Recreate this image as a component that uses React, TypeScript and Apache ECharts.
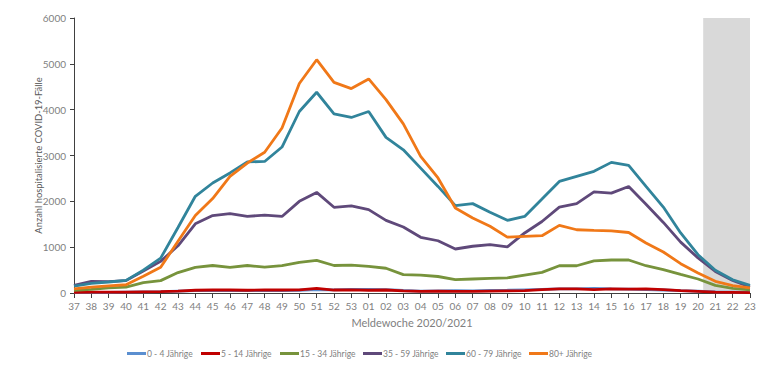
import React, { useEffect, useRef } from "react";
import * as echarts from "echarts";

const weeks = [
  "37","38","39","40","41","42","43","44","45","46","47","48","49","50","51","52","53",
  "01","02","03","04","05","06","07","08","09","10","11","12","13","14","15","16","17","18","19","20","21","22","23",
];

const age0to4 = [10,15,15,20,25,30,40,50,55,55,50,55,55,60,75,70,80,80,75,55,40,45,50,45,55,60,70,80,90,90,100,90,85,75,65,50,40,25,20,15];
const age5to14 = [15,20,20,20,25,30,40,60,65,65,60,65,65,70,100,65,70,60,65,45,35,40,35,35,40,45,50,75,90,90,75,90,85,90,75,50,35,20,15,10];
const age15to34 = [60,80,110,130,225,270,445,560,600,560,600,565,595,670,710,600,610,580,540,400,390,360,290,305,320,330,390,450,595,595,700,720,720,595,510,405,305,165,100,70];
const age35to59 = [165,255,250,270,480,690,1030,1510,1690,1730,1670,1700,1670,2000,2195,1870,1900,1820,1585,1440,1215,1140,960,1020,1055,1005,1310,1560,1875,1950,2205,2180,2325,1935,1540,1110,765,470,275,130];
const age60to79 = [150,210,240,275,500,760,1430,2110,2400,2620,2860,2870,3185,3960,4380,3910,3830,3960,3395,3125,2725,2325,1905,1950,1760,1585,1670,2050,2435,2545,2655,2850,2785,2325,1875,1310,835,495,290,165];
const age80plus = [90,130,155,180,365,560,1130,1690,2060,2545,2835,3070,3600,4570,5090,4595,4460,4670,4220,3690,2980,2510,1855,1635,1455,1220,1235,1250,1475,1380,1365,1355,1320,1090,895,640,435,255,160,110];

const seriesNames = ["0 - 4 Jährige","5 - 14 Jährige","15 - 34 Jährige","35 - 59 Jährige","60 - 79 Jährige","80+ Jährige"];
const seriesColors = ["#5b8fd0","#c00000","#77933c","#5f497a","#31849b","#f07818"];
const seriesData = [age0to4, age5to14, age15to34, age35to59, age60to79, age80plus];
const legendLeft = [127, 201, 280, 363, 446, 529];

// shaded (incomplete) period, in category-index units
const shadeStart = 36.3;
const shadeEnd = 39.16;
const shadeTop = 6330;

const FONT = "Lato, 'Open Sans', sans-serif";

export default function App() {
  const ref = useRef<HTMLDivElement>(null);
  useEffect(() => {
    if (!ref.current) return;
    const chart = echarts.init(ref.current, undefined, { renderer: "svg" });
    const lines = seriesNames.map((name, i) => ({
      name,
      type: "line",
      data: seriesData[i],
      symbol: "none",
      smooth: false,
      z: 3,
      lineStyle: { color: seriesColors[i], width: 2.8 },
      itemStyle: { color: seriesColors[i] },
    }));
    const legends = seriesNames.map((name, i) => ({
      data: [name],
      left: legendLeft[i],
      top: 349,
      padding: 0,
      itemWidth: 19,
      itemHeight: 3,
      icon: "rect",
      textStyle: { color: "#7f7f7f", fontSize: 8.5, fontFamily: FONT, padding: [0, 0, 0, -4] },
    }));
    chart.setOption({
      animation: false,
      textStyle: { fontFamily: FONT },
      grid: { left: 74, right: 17, top: 18, bottom: 78, containLabel: false },
      legend: legends,
      xAxis: [
        {
          type: "category",
          data: weeks,
          boundaryGap: false,
          name: "Meldewoche 2020/2021",
          nameLocation: "middle",
          nameGap: 24,
          nameTextStyle: { color: "#7f7f7f", fontSize: 11 },
          axisLine: { lineStyle: { color: "#404040", width: 1 } },
          axisTick: { show: true, length: 5, lineStyle: { color: "#404040" }, alignWithLabel: true },
          axisLabel: { color: "#7f7f7f", fontSize: 10, margin: 8, interval: 0 },
          splitLine: { show: false },
        },
        { type: "value", min: 0, max: 39, show: false },
      ],
      yAxis: {
        type: "value",
        min: 0,
        max: 6000,
        interval: 1000,
        name: "Anzahl hospitalisierte COVID-19-Fälle",
        nameLocation: "middle",
        nameGap: 31,
        nameMoveOverlap: false,
        nameTextStyle: { color: "#595959", fontSize: 9.4 },
        axisLine: { show: true, lineStyle: { color: "#404040", width: 1 } },
        axisTick: { show: true, length: 4, lineStyle: { color: "#404040" } },
        axisLabel: { color: "#7f7f7f", fontSize: 10, margin: 8, formatter: (v: number) => String(v) },
        splitLine: { show: false },
      },
      series: [
        {
          type: "line",
          xAxisIndex: 1,
          data: [],
          z: 1,
          clip: false,
          silent: true,
          markArea: {
            silent: true,
            itemStyle: { color: "#d9d9d9" },
            data: [[{ xAxis: shadeStart, yAxis: 0 }, { xAxis: shadeEnd, yAxis: shadeTop }]],
          },
        },
        ...lines,
      ],
    });
    return () => chart.dispose();
  }, []);
  return <div ref={ref} style={{ width: 767, height: 371, position: "absolute", left: 0, top: 0 }} />;
}
